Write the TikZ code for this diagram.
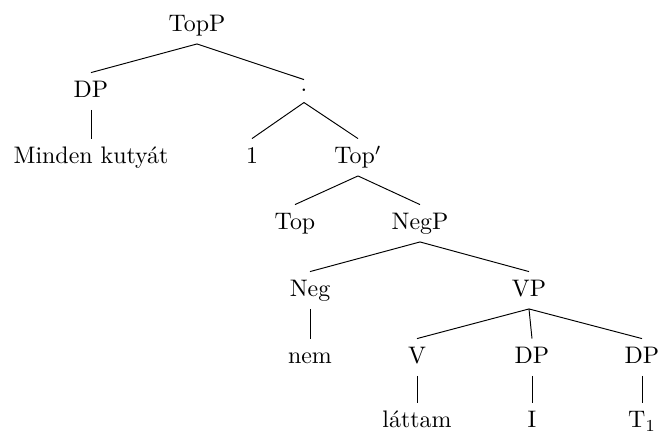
\documentclass[tikz,border=0pt]{standalone}
\begin{document}
\begin{tikzpicture}[x=0.4184pt,y=-0.4184pt,
  lab/.style={anchor=base,inner xsep=0pt,inner ysep=3.6pt,text height=6.83pt,text depth=1.2pt},
  dotlab/.style={anchor=base,inner xsep=0pt,inner ysep=3.6pt,text height=1.1pt,text depth=0.9pt},
  branch/.style={draw,line width=0.4pt}]
\useasboundingbox (0,0) rectangle (658,432);
\node[lab] (topp) at (197,32) {TopP};
\node[lab] (dp1) at (91,98) {DP};
\node[dotlab] (dot) at (304,91.3) {.};
\node[lab] (mk) at (91,164) {Minden kutyát};
\node[lab] (one) at (252,164) {1};
\node[lab] (topbar) at (358,164) {Top$'$};
\node[lab] (top) at (295,230) {Top};
\node[lab] (negp) at (420,230) {NegP};
\node[lab] (neg) at (310,297) {Neg};
\node[lab] (vp) at (529,297) {VP};
\node[lab] (nem) at (310,364) {nem};
\node[lab] (v) at (417,364) {V};
\node[lab] (dp2) at (532,364) {DP};
\node[lab] (dp3) at (642,364) {DP};
\node[lab] (lattam) at (417,428) {láttam};
\node[lab] (i) at (532,428) {I};
\node[lab] (t1) at (642,428) {T$_1$};
\path[branch] (topp.south) -- (dp1.north);
\path[branch] (topp.south) -- (dot.north);
\path[branch] (dp1.south) -- (mk.north);
\path[branch] (dot.south) -- (one.north);
\path[branch] (dot.south) -- (topbar.north);
\path[branch] (topbar.south) -- (top.north);
\path[branch] (topbar.south) -- (negp.north);
\path[branch] (negp.south) -- (neg.north);
\path[branch] (negp.south) -- (vp.north);
\path[branch] (neg.south) -- (nem.north);
\path[branch] (vp.south) -- (v.north);
\path[branch] (vp.south) -- (dp2.north);
\path[branch] (vp.south) -- (dp3.north);
\path[branch] (v.south) -- (lattam.north);
\path[branch] (dp2.south) -- (i.north);
\path[branch] (dp3.south) -- (t1.north);
\end{tikzpicture}
\end{document}
